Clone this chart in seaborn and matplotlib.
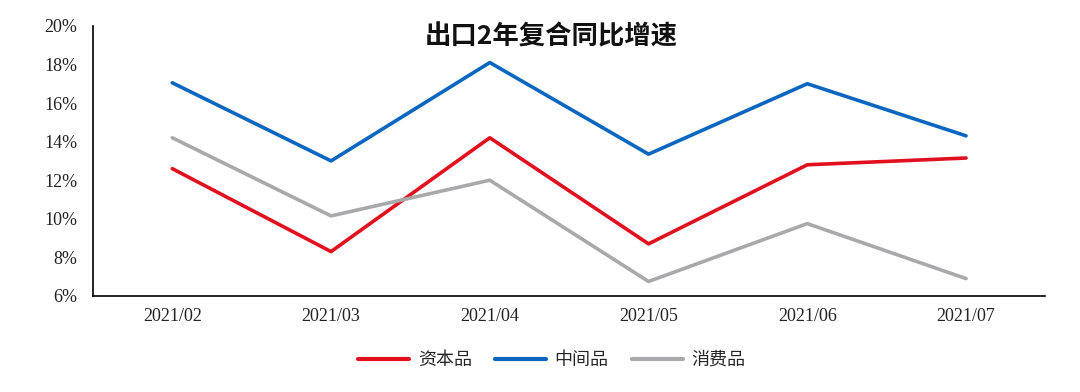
import pandas as pd
import matplotlib.pyplot as plt
import seaborn as sns
from matplotlib.ticker import FixedLocator, PercentFormatter

# data
months = ["2021/02", "2021/03", "2021/04", "2021/05", "2021/06", "2021/07"]
capital = [12.6, 8.3, 14.2, 8.7, 12.8, 13.15]
intermediate = [17.05, 13.0, 18.1, 13.35, 17.0, 14.3]
consumer = [14.2, 10.15, 12.0, 6.75, 9.75, 6.9]
series_names = ["资本品", "中间品", "消费品"]
colors = ["#E2101E", "#0A66BE", "#A9A9AB"]

df = pd.DataFrame({
    "month": months * 3,
    "x": list(range(len(months))) * 3,
    "value": capital + intermediate + consumer,
    "series": [s for s in series_names for _ in months],
})

sns.set_style("white")
plt.rcParams["font.family"] = ["Noto Sans CJK SC", "DejaVu Sans"]

fig = plt.figure(figsize=(10.8, 3.92), dpi=100)
ax = fig.add_axes([0.086, 0.245, 0.882, 0.689])

sns.lineplot(data=df, x="x", y="value", hue="series", palette=colors,
             hue_order=series_names, linewidth=2.6, ax=ax, legend=False)

ax.set_xlim(-0.5, len(months) - 0.5)
ax.set_ylim(6, 20)
ax.set_yticks(range(6, 21, 2))
ax.yaxis.set_major_formatter(PercentFormatter(decimals=0))
ax.set_xticks(range(len(months)))
ax.set_xticklabels(months)
ax.xaxis.set_minor_locator(FixedLocator([i - 0.5 for i in range(len(months) + 1)]))
ax.tick_params(axis="x", which="major", length=0, pad=9)
ax.tick_params(axis="x", which="minor", length=5, width=1, color="black", direction="out")
ax.tick_params(axis="y", length=5, width=1, color="black", direction="out", pad=6)
for lab in ax.get_xticklabels() + ax.get_yticklabels():
    lab.set_family("Liberation Serif")
    lab.set_fontsize(13)
    lab.set_color("#222222")
ax.set_xlabel("")
ax.set_ylabel("")
for side in ["top", "right"]:
    ax.spines[side].set_visible(False)
for side in ["left", "bottom"]:
    ax.spines[side].set_color("black")
    ax.spines[side].set_linewidth(1.2)

fig.text(0.51, 0.905, "出口2年复合同比增速", ha="center", va="center",
         fontsize=19, fontweight="bold", color="#111111")

handles = [plt.Line2D([], [], color=c, linewidth=3) for c in colors]
fig.legend(handles, series_names, loc="center", bbox_to_anchor=(0.511, 0.082),
           ncol=3, frameon=False, fontsize=13, handlelength=2.8,
           columnspacing=1.3, handletextpad=0.5)

fig.savefig("out.png", dpi=100)
